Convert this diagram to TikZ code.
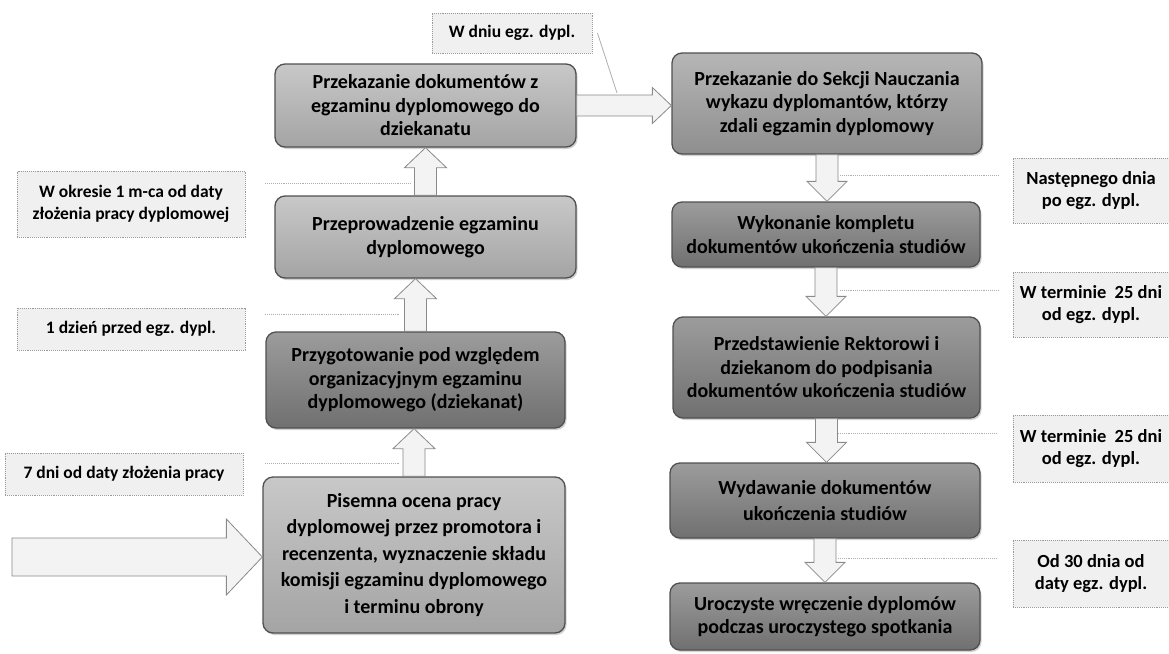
\documentclass[tikz,border=0pt]{standalone}
\usepackage{fontspec}
\setmainfont{Carlito}
\usetikzlibrary{calc,shadows}
\definecolor{bordc}{HTML}{505050}
\definecolor{lighttop}{HTML}{C8C8C8}
\definecolor{lightbot}{HTML}{A4A4A4}
\definecolor{midtop}{HTML}{B6B6B6}
\definecolor{midbot}{HTML}{8E8E8E}
\definecolor{darktop}{HTML}{9C9C9C}
\definecolor{darkbot}{HTML}{707070}
\definecolor{notefill}{HTML}{F0F0F0}
\definecolor{noteline}{HTML}{9A9A9A}
\definecolor{arrfill}{HTML}{F3F3F3}
\definecolor{arrline}{HTML}{8A8A8A}
\definecolor{leadc}{HTML}{AEAEAE}
\newcommand\arrUp[2]{%
  \coordinate (t#1#2) at (#1.north |- #2.south);
  \draw[blk] ($(#1.north)+(-11,0)$) -- ($(t#1#2)+(-11,20)$) -- ($(t#1#2)+(-21,20)$) -- (t#1#2)
    -- ($(t#1#2)+(21,20)$) -- ($(t#1#2)+(11,20)$) -- ($(#1.north)+(11,0)$) -- cycle;}
\newcommand\arrDown[2]{%
  \coordinate (t#1#2) at (#1.south |- #2.north);
  \draw[blk] ($(#1.south)+(-11,0)$) -- ($(t#1#2)+(-11,-20)$) -- ($(t#1#2)+(-20,-20)$) -- (t#1#2)
    -- ($(t#1#2)+(20,-20)$) -- ($(t#1#2)+(11,-20)$) -- ($(#1.south)+(11,0)$) -- cycle;}
\begin{document}
\begin{tikzpicture}[x=1pt,y=-1pt,
  box/.style={rounded corners=10pt, draw=bordc, line width=1.3pt, align=center,
    font=\bfseries\fontsize{20}{23.5}\selectfont, inner sep=0pt, text=black,
    drop shadow={shadow xshift=1.5pt, shadow yshift=-2pt, opacity=0.35}},
  lightbox/.style={box, top color=lighttop, bottom color=lightbot},
  midbox/.style={box, top color=midtop, bottom color=midbot},
  darkbox/.style={box, top color=darktop, bottom color=darkbot},
  note/.style={draw=noteline, densely dotted, line width=0.9pt, fill=notefill, align=center,
    font=\bfseries\fontsize{17.5}{22}\selectfont, inner sep=0pt},
  rnote/.style={note, font=\bfseries\fontsize{18.5}{22.5}\selectfont},
  blk/.style={draw=arrline, fill=arrfill, line width=0.8pt, line join=miter},
  leader/.style={draw=leadc, densely dotted, line width=0.9pt}
]
\useasboundingbox[fill=white] (0,0) rectangle (1169,653);

% main boxes, left column
\node[lightbox, minimum width=301pt, minimum height=83pt] (A) at (425.5,105.5)
  {Przekazanie dokumentów z\\egzaminu dyplomowego do\\dziekanatu};
\node[lightbox, minimum width=301pt, minimum height=82pt] (B) at (425.5,237)
  {Przeprowadzenie egzaminu\\dyplomowego};
\node[darkbox, minimum width=299pt, minimum height=96pt] (C) at (415.5,380)
  {Przygotowanie pod względem\\organizacyjnym egzaminu\\dyplomowego (dziekanat)};
\node[lightbox, minimum width=302pt, minimum height=156pt,
  font=\bfseries\fontsize{20}{26.5}\selectfont] (D) at (414,555)
  {Pisemna ocena pracy\\dyplomowej przez promotora i\\recenzenta, wyznaczenie składu\\komisji egzaminu dyplomowego\\i terminu obrony};

% main boxes, right column
\node[midbox, minimum width=310pt, minimum height=101pt] (E) at (827,103.5)
  {Przekazanie do Sekcji Nauczania\\wykazu dyplomantów, którzy\\zdali egzamin dyplomowy};
\node[darkbox, minimum width=308pt, minimum height=65pt] (F) at (826,234.5)
  {Wykonanie kompletu\\dokumentów ukończenia studiów};
\node[darkbox, minimum width=307pt, minimum height=101pt] (G) at (826.5,367.5)
  {Przedstawienie Rektorowi i\\dziekanom do podpisania\\dokumentów ukończenia studiów};
\node[darkbox, minimum width=310pt, minimum height=75pt,
  font=\bfseries\fontsize{20}{26.5}\selectfont] (H) at (825,500.5)
  {Wydawanie dokumentów\\ukończenia studiów};
\node[darkbox, minimum width=310pt, minimum height=67pt] (I) at (825,616.5)
  {Uroczyste wręczenie dyplomów\\podczas uroczystego spotkania};

% notes
\node[note, minimum width=160pt, minimum height=40pt] (N1) at (512,33) {W dniu egz. dypl.};
\node[note, minimum width=228pt, minimum height=66pt] (N2) at (131,204) {W okresie 1 m-ca od daty\\złożenia pracy dyplomowej};
\node[note, minimum width=228pt, minimum height=42pt] (N3) at (131,329) {1 dzień przed egz. dypl.};
\node[note, minimum width=238pt, minimum height=42pt] (N4) at (124,474) {7 dni od daty złożenia pracy};
\node[rnote, minimum width=156pt, minimum height=65pt] (R1) at (1091,190.5) {Następnego dnia\\po egz. dypl.};
\node[rnote, minimum width=156pt, minimum height=65pt] (R2) at (1091,304.5) {W terminie\ \ 25 dni\\od egz. dypl.};
\node[rnote, minimum width=156pt, minimum height=67pt] (R3) at (1091,448.5) {W terminie\ \ 25 dni\\od egz. dypl.};
\node[rnote, minimum width=156pt, minimum height=67pt] (R4) at (1091,573.5) {Od 30 dnia od\\daty egz. dypl.};

% block arrows
\arrUp{B}{A}
\arrUp{C}{B}
\arrUp{D}{C}
\arrDown{E}{F}
\arrDown{F}{G}
\arrDown{G}{H}
\arrDown{H}{I}
% A -> E
\coordinate (tAE) at (E.west |- A.east);
\draw[blk] ($(A.east)+(0,-10.5)$) -- ($(tAE)+(-19,-10.5)$) -- ($(tAE)+(-19,-18)$) -- (tAE)
  -- ($(tAE)+(-19,18)$) -- ($(tAE)+(-19,10.5)$) -- ($(A.east)+(0,10.5)$) -- cycle;
% input arrow -> D
\coordinate (src) at (12,557);
\coordinate (tD) at (D.west |- src);
\draw[blk] ($(src)+(0,-19)$) -- ($(tD)+(-36,-19)$) -- ($(tD)+(-36,-38)$) -- (tD)
  -- ($(tD)+(-36,38)$) -- ($(tD)+(-36,19)$) -- ($(src)+(0,19)$) -- cycle;

% leader lines
\coordinate (L1) at (410,183);
\coordinate (L2) at (400,314);
\coordinate (L3) at (400,463);
\draw[leader] ([xshift=20pt]N2.east |- L1) -- (L1);
\draw[leader] ([xshift=20pt]N3.east |- L2) -- (L2);
\draw[leader] ([xshift=22pt]N4.east |- L3) -- (L3);
\coordinate (M1) at (840,175);
\coordinate (M2) at (840,290);
\coordinate (M3) at (838,433);
\coordinate (M4) at (838,558);
\draw[leader] (M1) -- ([xshift=-13pt]R1.west |- M1);
\draw[leader] (M2) -- ([xshift=-13pt]R2.west |- M2);
\draw[leader] (M3) -- ([xshift=-16pt]R3.west |- M3);
\draw[leader] (M4) -- ([xshift=-16pt]R4.west |- M4);
\coordinate (T1) at (617,93);
\draw[draw=leadc, line width=0.8pt] ([xshift=5pt]N1.east) -- (T1);
\end{tikzpicture}
\end{document}
